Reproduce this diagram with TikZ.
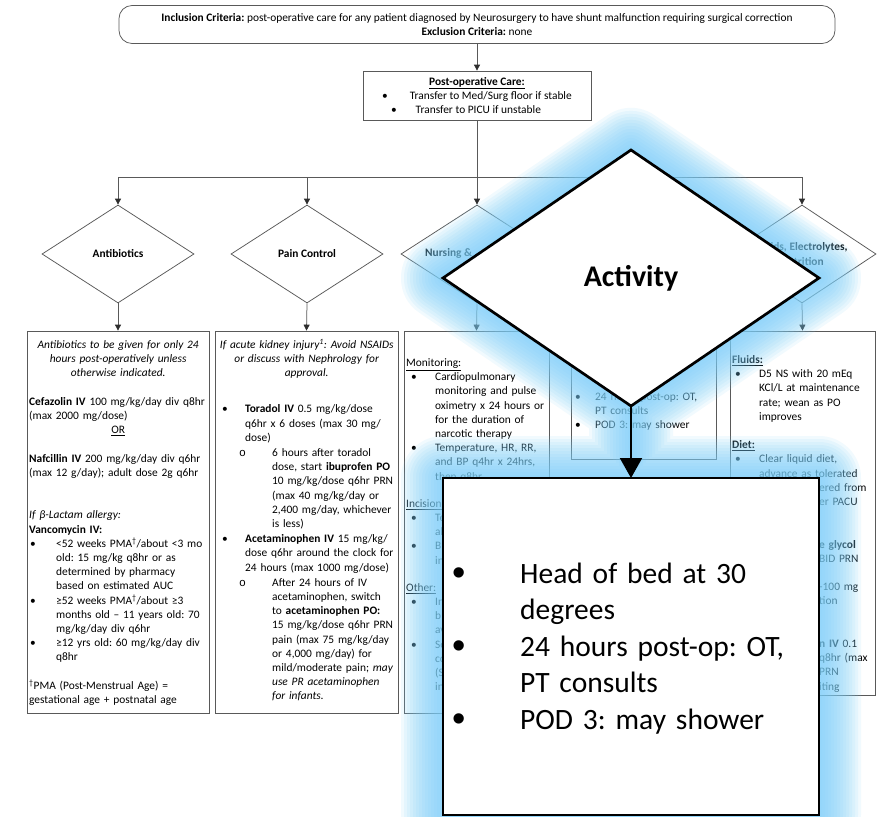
\documentclass[tikz,border=0pt]{standalone}
\usepackage{fontspec}
\setmainfont{Carlito}
\newfontfamily\libsans{Liberation Sans}
\newfontfamily\libmono{Liberation Mono}
\usetikzlibrary{arrows.meta,shapes.geometric}

\definecolor{linegray}{RGB}{89,89,89}
\definecolor{tipgray}{RGB}{45,45,45}
\definecolor{glowblue}{RGB}{125,208,250}

% list helpers for the column boxes
\newlength\bulo
\newlength\bult
\newlength\subo
\newlength\subt
\newcommand\myBul[1]{\makebox[\bult][l]{\hspace*{\bulo}\textbullet}#1}
\newcommand\myCont[1]{\hspace*{\bult}#1}
\newcommand\mySub[1]{\makebox[\subt][l]{\hspace*{\subo}{\libmono o}}#1}
\newcommand\mySubC[1]{\hspace*{\subt}#1}
\newcommand\dgmfont{\fontsize{11.4pt}{14.2pt}\selectfont}
\newcommand\bigdot{\makebox[71pt][l]{\hspace*{3pt}\raisebox{-2pt}{\fontsize{38pt}{38pt}\selectfont\libsans •}}}

\pgfdeclarelayer{haze}
\pgfdeclarelayer{front}
\pgfsetlayers{main,haze,front}

\tikzset{
  flowbox/.style={draw=linegray, line width=0.75pt, rectangle, inner sep=0pt},
  decision/.style={draw=linegray, line width=0.75pt, diamond, aspect=1.6, inner sep=0pt,
    minimum width=152pt, minimum height=98pt, font=\dgmfont\bfseries, align=center},
  flowarrow/.style={draw=linegray, line width=0.75pt,
    -{Triangle[length=6pt,width=6pt,color=tipgray]}},
  flowline/.style={draw=linegray, line width=0.75pt},
  boxtext/.style={anchor=base west, text width=300pt, align=left, inner sep=0pt, font=\dgmfont},
  bigshape/.style={draw=black, line width=2.7pt, fill=white, inner sep=0pt, outer sep=0pt},
}

\begin{document}
\frenchspacing
\begin{tikzpicture}[x=1pt,y=1pt]
\fill[white] (0,0) rectangle (879,-817);
\useasboundingbox (0,0) rectangle (879,-817);

% ---------------- header and post-operative care ----------------
\node[flowbox, rounded corners=13pt, minimum width=716pt, minimum height=38pt,
      align=center, font=\dgmfont] (crit) at (477,-24.5)
  {\textbf{Inclusion Criteria:} post-operative care for any patient diagnosed by Neurosurgery to have shunt malfunction requiring surgical correction\\
   \textbf{Exclusion Criteria:} none};

\node[flowbox, minimum width=228pt, minimum height=49pt, align=center, font=\dgmfont] (post) at (477,-95.5)
  {\underline{\textbf{Post-operative Care:}}\\
   \textbullet\hspace*{22pt}Transfer to Med/Surg floor if stable\\
   \textbullet\hspace*{19pt}Transfer to PICU if unstable\hspace*{22pt}};

\coordinate (hub) at (477,-177);

% ---------------- decisions ----------------
\node[decision] (dA) at (118,-254) {Antibiotics};
\node[decision] (dP) at (307,-254) {Pain Control};
\node[decision] (dN) at (477,-254) {};
\node[anchor=west, inner sep=0pt, font=\dgmfont\bfseries] (nlab) at (425,-253) {Nursing \&};
\node[decision] (dT) at (643.5,-254) {};
\node[decision, minimum width=148pt] (dF) at (802,-254) {Fluids, Electrolytes,\\Nutrition};

% ---------------- column boxes ----------------
\node[flowbox, minimum width=182pt, minimum height=382pt] (bA) at (118,-522) {};
\node[flowbox, minimum width=183pt, minimum height=382pt] (bP) at (306.5,-522) {};
\node[flowbox, minimum width=145pt, minimum height=382pt] (bN) at (476.5,-522) {};
\node[flowbox, minimum width=145pt, minimum height=128pt] (bT) at (643.5,-395) {};
\node[flowbox, minimum width=145pt, minimum height=364pt] (bF) at (802.5,-513) {};

% ---------------- connectors ----------------
\draw[flowarrow] (crit.south) -- (post.north);
\draw[flowline] (post.south) -- (hub);
\draw[flowarrow] (hub) -| (dA.north);
\draw[flowarrow] (hub) -| (dP.north);
\draw[flowarrow] (hub) -- (dN.north);
\draw[flowarrow] (hub) -| (dT.north);
\draw[flowarrow] (hub) -| (dF.north);
\draw[flowarrow] (dA.south) -- (bA.north);
\draw[flowarrow] (dP.south) -- (bP.north);
\draw[flowarrow] (dN.south) -- (bN.north);
\draw[flowarrow] (dT.south) -- (bT.north);
\draw[flowarrow] (dF.south) -- (bF.north);

% ---------------- antibiotics ----------------
\node[boxtext] (tA) at (29,-348.5) {\setlength\bulo{1pt}\setlength\bult{27pt}%
\makebox[178pt][c]{\itshape Antibiotics to be given for only 24}\\
\makebox[178pt][c]{\itshape hours post-operatively unless}\\
\makebox[178pt][c]{\itshape otherwise indicated.}\\[14.2pt]
\textbf{Cefazolin IV} 100 mg/kg/day div q8hr\\
(max 2000 mg/dose)\\
\makebox[178pt][c]{\underline{OR}}\\[14.2pt]
\textbf{Nafcillin IV} 200 mg/kg/day div q6hr\\
(max 12 g/day); adult dose 2g q6hr\\[28.4pt]
\textit{If β-Lactam allergy:}\\
\textbf{Vancomycin IV:}\\
\myBul{<52 weeks PMA\textsuperscript{†}/about <3 mo}\\
\myCont{old: 15 mg/kg q8hr or as}\\
\myCont{determined by pharmacy}\\
\myCont{based on estimated AUC}\\
\myBul{≥52 weeks PMA\textsuperscript{†}/about ≥3}\\
\myCont{months old – 11 years old: 70}\\
\myCont{mg/kg/day div q6hr}\\
\myBul{≥12 yrs old: 60 mg/kg/day div}\\
\myCont{q8hr}\\[14.2pt]
\textsuperscript{†}PMA (Post-Menstrual Age) =\\
gestational age + postnatal age};

% ---------------- pain control ----------------
\node[boxtext] (tP) at (217,-348.5) {\setlength\bulo{5pt}\setlength\bult{28pt}%
\setlength\subo{22pt}\setlength\subt{55pt}%
\makebox[179pt][c]{\itshape If acute kidney injury\textsuperscript{1}: Avoid NSAIDs}\\
\makebox[179pt][c]{\itshape or discuss with Nephrology for}\\
\makebox[179pt][c]{\itshape approval.}\\[21.8pt]
\myBul{\textbf{Toradol IV} 0.5 mg/kg/dose}\\
\myCont{q6hr x 6 doses (max 30 mg/}\\
\myCont{dose)}\\[1pt]
\mySub{6 hours after toradol}\\
\mySubC{dose, start \textbf{ibuprofen PO}}\\
\mySubC{10 mg/kg/dose q6hr PRN}\\
\mySubC{(max 40 mg/kg/day or}\\
\mySubC{2,400 mg/day, whichever}\\
\mySubC{is less)}\\[1pt]
\myBul{\textbf{Acetaminophen IV} 15 mg/kg/}\\
\myCont{dose q6hr around the clock for}\\
\myCont{24 hours (max 1000 mg/dose)}\\[1pt]
\mySub{After 24 hours of IV}\\
\mySubC{acetaminophen, switch}\\
\mySubC{to \textbf{acetaminophen PO:}}\\
\mySubC{15 mg/kg/dose q6hr PRN}\\
\mySubC{pain (max 75 mg/kg/day}\\
\mySubC{or 4,000 mg/day) for}\\
\mySubC{mild/moderate pain; \textit{may}}\\
\mySubC{\textit{use PR acetaminophen}}\\
\mySubC{\textit{for infants.}}};

% ---------------- nursing ----------------
\node[boxtext] (tN) at (406,-366.5) {\setlength\bulo{5pt}\setlength\bult{29pt}%
\underline{Monitoring:}\\
\myBul{Cardiopulmonary}\\
\myCont{monitoring and pulse}\\
\myCont{oximetry x 24 hours or}\\
\myCont{for the duration of}\\
\myCont{narcotic therapy}\\
\myBul{Temperature, HR, RR,}\\
\myCont{and BP q4hr x 24hrs,}\\
\myCont{then q8hr}\\[13pt]
\underline{Incision}\\
\myBul{Te}\\
\myCont{al}\\
\myBul{B}\\
\myCont{in}\\[13pt]
\underline{Other:}\\
\myBul{In}\\
\myCont{b}\\
\myCont{av}\\
\myBul{Se}\\
\myCont{co}\\
\myCont{(S}\\
\myCont{in}};

% ---------------- activity column ----------------
\node[boxtext] (tT) at (573,-400.5) {\setlength\bulo{2pt}\setlength\bult{22pt}%
\myBul{24 hours post-op: OT,}\\
\myCont{PT consults}\\
\myBul{POD 3: may shower}};

% ---------------- fluids ----------------
\node[boxtext] (tF) at (732,-363.5) {\setlength\bulo{3pt}\setlength\bult{27pt}%
\underline{\textbf{Fluids:}}\\
\myBul{D5 NS with 20 mEq}\\
\myCont{KCl/L at maintenance}\\
\myCont{rate; wean as PO}\\
\myCont{improves}\\[14.2pt]
\underline{\textbf{Diet:}}\\
\myBul{Clear liquid diet,}\\
\myCont{advance as tolerated}\\
\hspace*{87pt}ered from\\
\hspace*{87pt}er PACU\\[28.4pt]
\hspace*{87pt}\textbf{e glycol}\\
\hspace*{87pt}BID PRN\\[14.2pt]
\hspace*{87pt}-100 mg\\
\hspace*{87pt}tion\\[28.4pt]
\hspace*{87pt}\textbf{n IV} 0.1\\
\hspace*{87pt}q8hr (max\\
\hspace*{87pt}PRN\\
\hspace*{87pt}iting};

% ---------------- highlighted activity step ----------------
\begin{pgfonlayer}{front}
\node[bigshape, diamond, aspect=1.47, minimum width=376pt, minimum height=256pt,
      font=\fontsize{30pt}{36pt}\selectfont\bfseries] (bigD) at (631,-278) {Activity};
\node[bigshape, rectangle, minimum width=376pt, minimum height=337pt] (bigB) at (631,-646.5) {};
\draw[line width=2pt, -{Triangle[length=20pt,width=22pt]}] (bigD.south) -- (bigB.north);
\node[anchor=base west, text width=372pt, align=left, inner sep=0pt,
      font=\fontsize{29.5pt}{36.5pt}\selectfont] (bigT) at (449,-583)
  {\bigdot Head of bed at 30\\
   \hspace*{71pt}degrees\\
   \bigdot 24 hours post-op: OT,\\
   \hspace*{71pt}PT consults\\
   \bigdot POD 3: may shower};
\end{pgfonlayer}

\begin{pgfonlayer}{haze}
\foreach \r in {3,6,...,42}{
  \draw[glowblue, opacity=0.105, line width={2*\r pt}, line join=round, line cap=round]
    (bigD.north) -- (bigD.east) -- (bigD.south) -- (bigD.west) -- cycle
    (bigB.north west) rectangle (bigB.south east)
    (bigD.south) -- (bigB.north);
}
\end{pgfonlayer}
\end{tikzpicture}
\end{document}
